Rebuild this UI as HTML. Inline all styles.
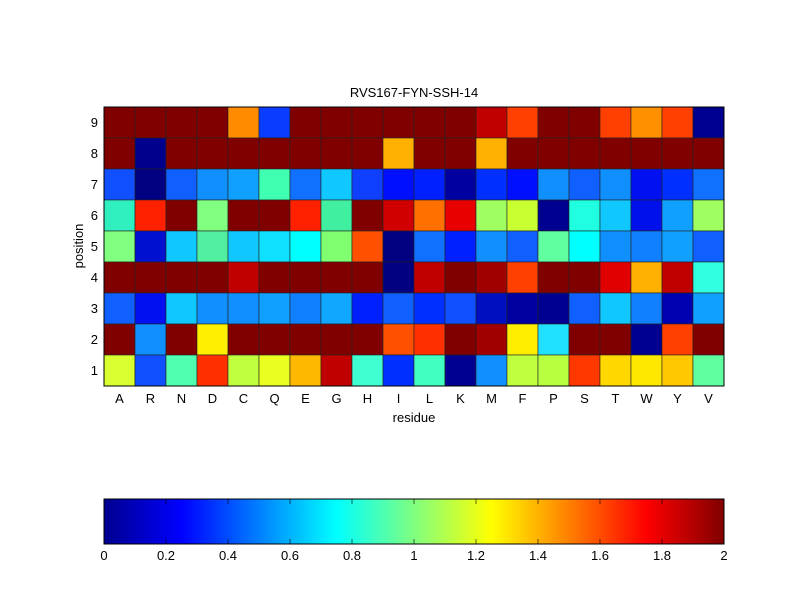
<!DOCTYPE html>
<html><head><meta charset="utf-8"><style>body{margin:0;background:#fff}svg{display:block}</style></head><body>
<svg id="s" width="800" height="600" xmlns="http://www.w3.org/2000/svg" font-family="Liberation Sans, sans-serif" font-size="13">
<defs><linearGradient id="jet" x1="0" x2="1" y1="0" y2="0">
<stop offset="0" stop-color="#00008f"/><stop offset="0.125" stop-color="#0000ff"/><stop offset="0.375" stop-color="#00ffff"/><stop offset="0.625" stop-color="#ffff00"/><stop offset="0.875" stop-color="#ff0000"/><stop offset="1" stop-color="#800000"/></linearGradient></defs>
<g id="cells"></g>
<rect x="104" y="107" width="620" height="279" fill="none" stroke="#000" stroke-width="1"/>
<text x="414" y="97" text-anchor="middle">RVS167-FYN-SSH-14</text>
<text x="414" y="422" text-anchor="middle">residue</text>
<text transform="translate(83,246) rotate(-90)" text-anchor="middle">position</text>
<g id="lab"></g>
<rect x="104" y="499" width="620" height="45" fill="url(#jet)" stroke="#000"/>
<g id="cb"></g>
</svg>
<script>
var D="#800000";
var rows=[
[D,D,D,D,"#ff8c00","#0a3cff",D,D,D,D,D,D,"#c00000","#ff4000",D,D,"#ff4000","#ff9000","#ff4000","#000090"],
[D,"#00008c",D,D,D,D,D,D,D,"#ffb000",D,D,"#ffb000",D,D,D,D,D,D,D],
["#1050ff","#000080","#1060ff","#1090ff","#10a0ff","#40ffb0","#1070ff","#10c8ff","#1040ff","#0010ff","#0020ff","#0000a0","#0030ff","#0010ff","#1090ff","#1060ff","#1090ff","#0010f0","#0030ff","#1070ff"],
["#30f0c0","#ff2000",D,"#80ff80",D,D,"#ff2000","#40f0a0",D,"#d00000","#ff7000","#e80000","#a0ff60","#c8ff30","#000090","#20ffe0","#10c8ff","#0010ea","#10a0ff","#a0ff60"],
["#80ff80","#0010d0","#10c8ff","#50f0a0","#10c8ff","#10e0ff","#00ffff","#80ff70","#ff5000","#000080","#1070ff","#0020ff","#1090ff","#1060ff","#60ffa0","#00ffff","#1090ff","#1080ff","#10a0ff","#1060ff"],
[D,D,D,D,"#c00000",D,D,D,D,"#000080","#c00000",D,"#a00000","#ff4000",D,D,"#e00000","#ffb000","#c00000","#30ffe0"],
["#1060ff","#0010f0","#10c8ff","#1090ff","#1090ff","#10a0ff","#1080ff","#10a8ff","#0020ff","#1060ff","#0030ff","#1050ff","#0010c0","#0000a0","#000090","#1060ff","#10c8ff","#1080ff","#0000b0","#10a0ff"],
[D,"#1090ff",D,"#ffef00",D,D,D,D,D,"#ff5000","#ff3000",D,"#a00000","#ffee00","#20e0ff",D,D,"#000090","#ff4000",D],
["#d8ff30","#1050ff","#50ffb0","#ff3000","#c0ff40","#e8ff20","#ffb800","#c00000","#40ffd0","#0030ff","#40ffc0","#000090","#1090ff","#c0ff40","#b8ff40","#ff3800","#ffd800","#ffe800","#ffc800","#60ffa0"]];
var h="",cw=31,ch=31;
for(var r=0;r<9;r++)for(var c=0;c<20;c++)h+='<rect x="'+(104+c*cw)+'" y="'+(107+r*ch)+'" width="'+cw+'" height="'+ch+'" fill="'+rows[r][c]+'" stroke="#222" stroke-width="0.6"/>';
document.getElementById("cells").innerHTML=h;
var L="ARNDCQEGHILKMFPSTWYV",t="";
for(var c=0;c<20;c++)t+='<text x="'+(104+c*cw+15.5)+'" y="403" text-anchor="middle">'+L[c]+'</text>';
for(var r=0;r<9;r++)t+='<text x="98" y="'+(107+r*ch+20)+'" text-anchor="end">'+(9-r)+'</text>';
document.getElementById("lab").innerHTML=t;
var b="";
for(var i=0;i<=10;i++){var x=104+i*62;b+='<line x1="'+x+'" y1="499" x2="'+x+'" y2="504" stroke="#000" stroke-width="0.6"/><line x1="'+x+'" y1="544" x2="'+x+'" y2="539" stroke="#000" stroke-width="0.6"/><text x="'+x+'" y="560" text-anchor="middle">'+(i==0?"0":i==5?"1":i==10?"2":(i*0.2).toFixed(1))+'</text>';}
document.getElementById("cb").innerHTML=b;
</script>
</body></html>
